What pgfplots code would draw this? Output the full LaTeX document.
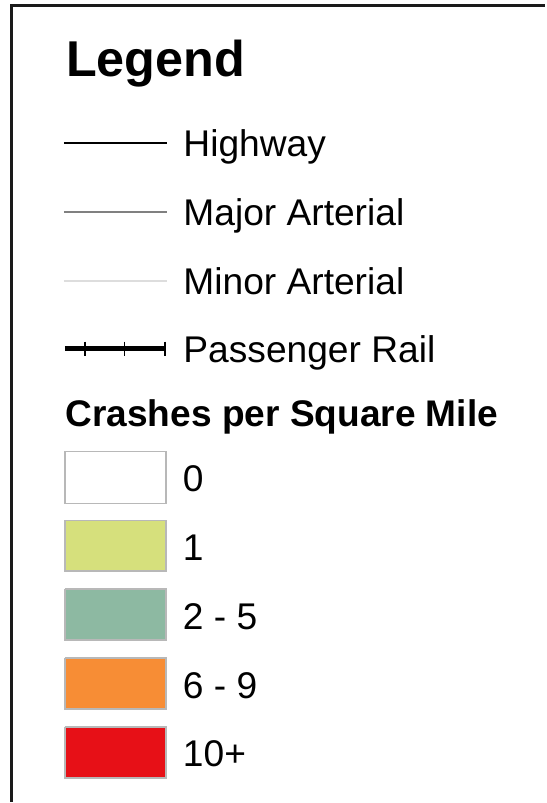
\documentclass[border=0pt]{standalone}
\usepackage{pgfplots}
\pgfplotsset{compat=1.18}
\usepackage{fontspec}
\setmainfont{Liberation Sans}
\definecolor{cYel}{HTML}{D6E07C}
\definecolor{cTeal}{HTML}{8DB9A2}
\definecolor{cOra}{HTML}{F78D35}
\definecolor{cRed}{HTML}{E71017}
\definecolor{cBord}{HTML}{B8B8B8}
\definecolor{cMaj}{HTML}{808080}
\definecolor{cMin}{HTML}{DDDDDD}
\definecolor{cFrame}{HTML}{1A1A1A}
\tikzset{lbl/.style={anchor=base west, inner sep=0pt, font=\fontsize{37.2}{44}\selectfont}}
\begin{document}
\begin{tikzpicture}
\begin{axis}[
  scale only axis, width=546pt, height=803pt,
  xmin=0, xmax=546, ymin=0, ymax=803, y dir=reverse,
  hide axis, clip=false,
]
% background
\addplot[draw=none, fill=white] coordinates {(0,0) (546,0) (546,803) (0,803)};
% frame
\addplot[cFrame, line width=2.2pt] coordinates {(11.5,803) (11.5,5.5) (546,5.5)};
% title
\node[anchor=base west, inner sep=0pt, font=\fontsize{50.4}{60}\selectfont\bfseries] at (axis cs:66,77) {Legend};
% lines
\addplot[black, line width=2pt] coordinates {(64,143) (167,143)};
\addplot[cMaj, line width=2.3pt] coordinates {(64,212) (167,212)};
\addplot[cMin, line width=2pt] coordinates {(64,281) (167,281)};
\addplot[black, line width=4.5pt] coordinates {(65,349) (166,349)};
\addplot[black, line width=1.6pt] coordinates {(85,342) (85,356)};
\addplot[black, line width=1.6pt] coordinates {(124.5,342) (124.5,356)};
\addplot[black, line width=1.6pt] coordinates {(165.5,342) (165.5,356)};
\node[lbl] at (axis cs:183.5,157) {Highway};
\node[lbl] at (axis cs:183.5,226) {Major Arterial};
\node[lbl] at (axis cs:183.5,295) {Minor Arterial};
\node[lbl] at (axis cs:183.5,363) {Passenger Rail};
% subtitle
\node[anchor=base west, inner sep=0pt, font=\fontsize{37.1}{44}\selectfont\bfseries] at (axis cs:65.5,427) {Crashes per Square Mile};
% boxes
\addplot[fill=white, draw=cBord, line width=1.5pt] coordinates {(65,452) (166,452) (166,504) (65,504) (65,452)};
\addplot[fill=cYel, draw=cBord, line width=1.5pt] coordinates {(65,521) (166,521) (166,572) (65,572) (65,521)};
\addplot[fill=cTeal, draw=cBord, line width=1.5pt] coordinates {(65,590) (166,590) (166,641) (65,641) (65,590)};
\addplot[fill=cOra, draw=cBord, line width=1.5pt] coordinates {(65,659) (166,659) (166,710) (65,710) (65,659)};
\addplot[fill=cRed, draw=cBord, line width=1.5pt] coordinates {(65,728) (166,728) (166,779) (65,779) (65,728)};
\node[lbl] at (axis cs:183,492) {0};
\node[lbl] at (axis cs:183,561) {1};
\node[lbl] at (axis cs:183,630) {2 - 5};
\node[lbl] at (axis cs:183,699) {6 - 9};
\node[lbl] at (axis cs:183,768) {10+};
\end{axis}
\end{tikzpicture}
\end{document}
